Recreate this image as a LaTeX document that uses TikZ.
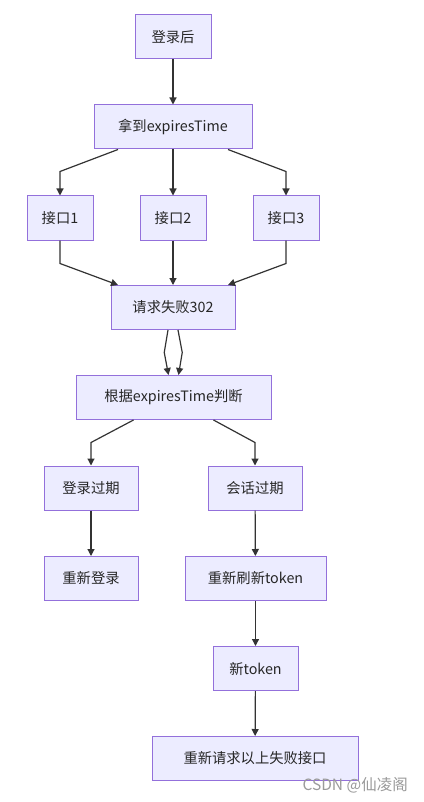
\documentclass[tikz,border=0pt]{standalone}
\usepackage{fontspec}
\setmainfont{Noto Sans CJK SC}
\usepackage{tikz}
\usetikzlibrary{arrows.meta, positioning, calc}
\definecolor{boxfill}{HTML}{ECECFF}
\definecolor{boxline}{HTML}{9370DB}
\definecolor{flowline}{HTML}{333333}
\definecolor{markgray}{HTML}{9A9A9A}

\begin{document}
\begin{tikzpicture}[x=1pt, y=-1pt,
    box/.style={draw=boxline, fill=boxfill, line width=1pt, minimum height=44pt,
      inner sep=0pt, font=\fontsize{14.3}{17}\selectfont, text=black!85},
    flow/.style={draw=flowline, line width=1.2pt, -{Triangle[length=7pt,width=7pt]}}]
    \useasboundingbox[fill=white] (0,0) rectangle (423,802);
    % Boxes
    \node[box, minimum width=76pt] (login) at (173,37) {登录后};
    \node[box, minimum width=158pt] (fetch) at (173,127) {拿到expiresTime};
    \node[box, minimum width=66pt] (api1) at (60,218) {接口1};
    \node[box, minimum width=66pt] (api2) at (173,218) {接口2};
    \node[box, minimum width=66pt] (api3) at (286,218) {接口3};
    \node[box, minimum width=124pt] (fail) at (173,307.5) {请求失败302};
    \node[box, minimum width=195pt] (judge) at (173.5,397.5) {根据expiresTime判断};
    \node[box, minimum width=94pt] (loginexp) at (91,488) {登录过期};
    \node[box, minimum width=94pt] (sessexp) at (255,488) {会话过期};
    \node[box, minimum width=94pt] (relogin) at (91,578.5) {重新登录};
    \node[box, minimum width=141pt] (refresh) at (255.5,578.5) {重新刷新token};
    \node[box, minimum width=85pt] (newtok) at (255.5,668.5) {新token};
    \node[box, minimum width=206pt] (retry) at (255,758.5) {重新请求以上失败接口};
    % Connectors
    \draw[flow] (login) -- (fetch);
    \draw[flow] ([xshift=-55pt]fetch.south) -- ([yshift=24pt]api1.north) -- (api1.north);
    \draw[flow] (fetch) -- (api2);
    \draw[flow] ([xshift=55pt]fetch.south) -- ([yshift=24pt]api3.north) -- (api3.north);
    \draw[flow] (api1.south) -- ([yshift=-23pt]api1.south) -- ([xshift=-55pt]fail.north);
    \draw[flow] (api2) -- (fail);
    \draw[flow] (api3.south) -- ([yshift=-23pt]api3.south) -- ([xshift=55pt]fail.north);
    \draw[flow] ([xshift=-5pt]fail.south) -- ($(fail.south)!0.5!(judge.north)+(-9,0)$) -- ([xshift=-5pt]judge.north);
    \draw[flow] ([xshift=5pt]fail.south) -- ($(fail.south)!0.5!(judge.north)+(9,0)$) -- ([xshift=5pt]judge.north);
    \draw[flow] ([xshift=-40pt]judge.south) -- ([yshift=23pt]loginexp.north) -- (loginexp.north);
    \draw[flow] ([xshift=40pt]judge.south) -- ([yshift=23pt]sessexp.north) -- (sessexp.north);
    \draw[flow] (loginexp) -- (relogin);
    \draw[flow] (sessexp) -- (refresh);
    \draw[flow] (refresh) -- (newtok);
    \draw[flow] (newtok) -- (retry);
    % Watermark
    \node[text=markgray, font=\fontsize{15.5}{18}\selectfont, anchor=east, inner sep=0pt] (mark) at (408,785) {CSDN @仙凌阁};
\end{tikzpicture}
\end{document}
